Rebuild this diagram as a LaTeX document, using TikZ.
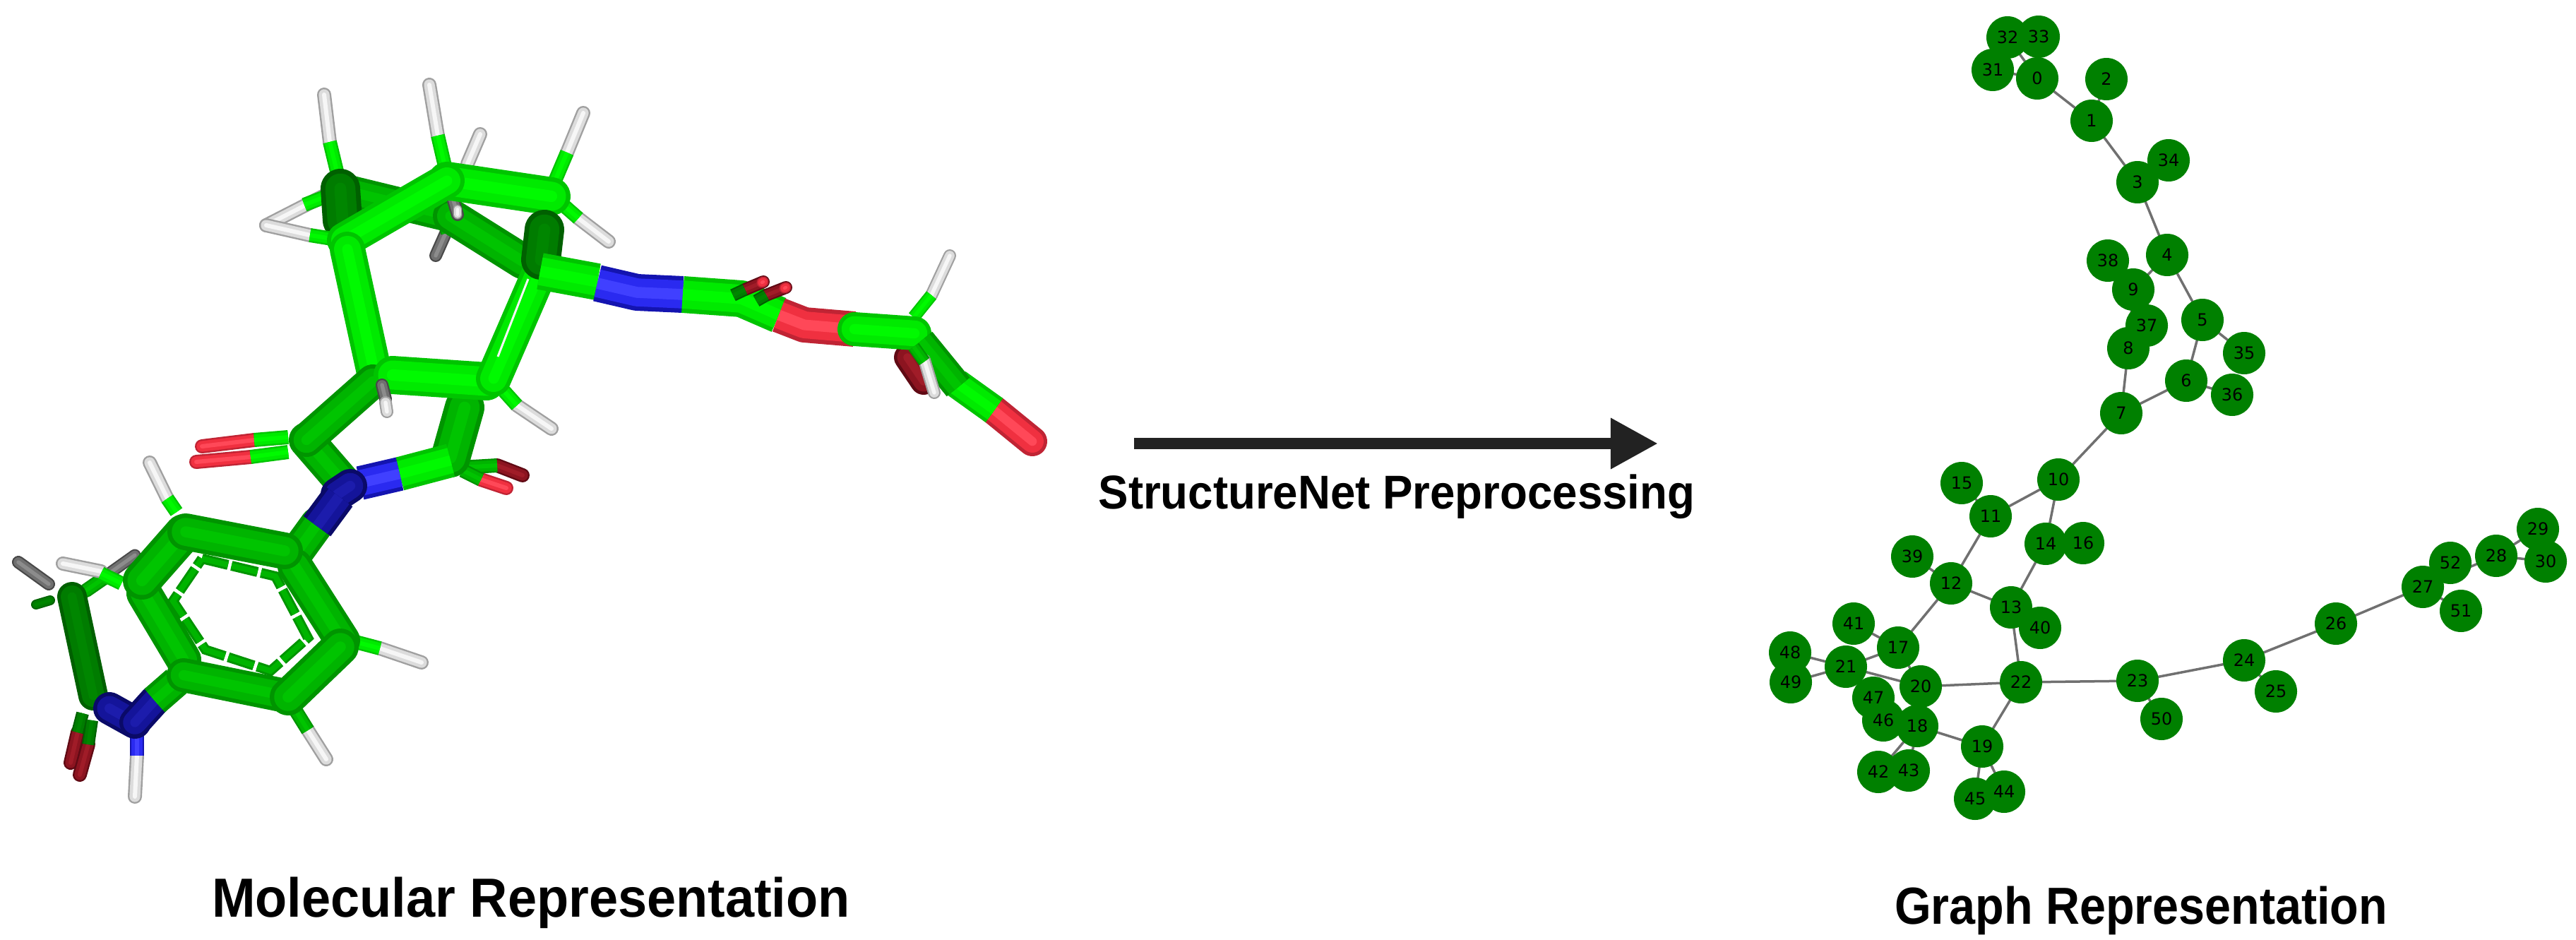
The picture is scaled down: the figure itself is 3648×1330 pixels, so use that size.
\documentclass[tikz,border=0pt]{standalone}
\usepackage{fontspec}
\usepackage{xcolor}
\newfontfamily\graphfont{DejaVu Sans}
\newfontfamily\capfont[FakeStretch=0.947]{Liberation Sans}
\newfontfamily\graphcapfont[FakeStretch=0.9]{Liberation Sans}
\definecolor{graphgreen}{HTML}{008000}
\definecolor{edgegray}{HTML}{707070}
\definecolor{arrowdark}{HTML}{222222}
\definecolor{carbon}{HTML}{00EA00}
\definecolor{carbonedge}{HTML}{00C400}
\definecolor{carbonlit}{HTML}{00FA00}
\definecolor{midc}{HTML}{00B400}
\definecolor{midcedge}{HTML}{009400}
\definecolor{midclit}{HTML}{00C400}
\definecolor{deep}{HTML}{007C00}
\definecolor{deepedge}{HTML}{006000}
\definecolor{deeplit}{HTML}{008600}
\definecolor{nitro}{HTML}{2A2AF0}
\definecolor{nitroedge}{HTML}{1414B0}
\definecolor{nitrolit}{HTML}{4040FF}
\definecolor{navy}{HTML}{14149A}
\definecolor{navyedge}{HTML}{0A0A68}
\definecolor{navylit}{HTML}{1C1CAC}
\definecolor{oxy}{HTML}{F03040}
\definecolor{oxyedge}{HTML}{C02434}
\definecolor{oxylit}{HTML}{FF4858}
\definecolor{wine}{HTML}{8C1420}
\definecolor{wineedge}{HTML}{600A14}
\definecolor{winelit}{HTML}{A01C28}
\definecolor{hyd}{HTML}{DCDCDC}
\definecolor{hydedge}{HTML}{A0A0A0}
\definecolor{hydlit}{HTML}{F6F6F6}
\definecolor{smoke}{HTML}{707070}
\definecolor{smokeedge}{HTML}{484848}
\definecolor{smokelit}{HTML}{8C8C8C}
\usepackage{tikz}
\usetikzlibrary{arrows.meta, backgrounds}
\newcommand{\pxu}{0.01cm}
\newcommand{\tube}[4][round]{
  \draw[line cap=#1, line join=round, line width=#3*\pxu, #2edge] #4;
  \draw[line cap=#1, line join=round, line width=0.76*#3*\pxu, #2] #4;
  \draw[line cap=#1, line join=round, line width=0.3*#3*\pxu, #2lit] #4;
}
\tikzset{
  gnode/.style={circle, minimum size=0.6cm, inner sep=0pt, font=\graphfont\fontsize{6.8}{8}\selectfont, text=black},
  gedge/.style={edgegray, line width=3.5*\pxu},
  caption/.style={anchor=base, inner sep=0pt, font=\capfont\bfseries\fontsize{22.2}{26}\selectfont, text=black}
}

\begin{document}
\begin{tikzpicture}[x=0.01cm, y=-0.01cm, >=Stealth]
  \useasboundingbox (0,0) rectangle (3648,1330);

  \coordinate (ca) at (488,340);
  \coordinate (cb) at (633,256);
  \coordinate (cc) at (781,278);
  \coordinate (cd) at (765,384);
  \coordinate (ce) at (694,540);
  \coordinate (cf) at (531,532);
  \coordinate (cg) at (482,268);
  \coordinate (ch) at (638,306);

  \tube{hyd}{20}{(680,190) -- (662,232)}
  \tube{smoke}{18}{(633,326) -- (617,362)}
  \tube[butt]{midc}{18}{(625,300) -- (633,330)}
  \tube{hyd}{20}{(459,277) -- (377,319)}
  \tube[butt]{carbon}{20}{(470,275) -- (431,290)}
  \tube{midc}{46}{(cg) -- (ch)}
  \tube{midc}{50}{(ch) -- (740,370)}
  \tube{hyd}{20}{(467,201) -- (459,134)}
  \tube[butt]{carbon}{20}{(482,263) -- (467,201)}
  \tube{deep}{56}{(482,267) -- (485,312)}
  \tube{smoke}{18}{(638,270) -- (648,304)}
  \tube{hyd}{12}{(648,296) -- (648,304)}
  \tube{hyd}{20}{(620,192) -- (608,120)}
  \tube[butt]{carbon}{20}{(633,248) -- (620,192)}
  \tube{hyd}{20}{(803,216) -- (826,160)}
  \tube[butt]{carbon}{20}{(780,270) -- (803,216)}
  \tube{hyd}{20}{(819,309) -- (862,342)}
  \tube[butt]{carbon}{20}{(786,280) -- (819,309)}
  \tube{hyd}{20}{(439,333) -- (377,319)}
  \tube[butt]{carbon}{20}{(470,338) -- (439,333)}
  \tube{carbon}{54}{(cb) -- (cc)}
  \tube{carbon}{50}{(ca) -- (cb)}
  \tube{carbon}{50}{(492,353) -- (cf)}
  \tube{hyd}{20}{(732,574) -- (781,607)}
  \tube[butt]{carbon}{20}{(714,554) -- (732,574)}
  \tube{oxy}{20}{(360,623) -- (286,632)}
  \tube[butt]{carbon}{20}{(408,619) -- (360,623)}
  \tube{oxy}{20}{(355,647) -- (278,654)}
  \tube[butt]{carbon}{20}{(408,640) -- (355,647)}
  \tube{wine}{20}{(704,659) -- (740,673)}
  \tube[butt]{midc}{20}{(653,662) -- (704,659)}
  \tube{oxy}{20}{(681,679) -- (717,691)}
  \tube[butt]{midc}{20}{(655,666) -- (681,679)}
  \tube{midc}{56}{(638,648) -- (658,577)}
  \tube{midc}{50}{(434,623) -- (485,682)}
  \tube{midc}{48}{(528,540) -- (434,623)}
  \tube{carbon}{54}{(556,531) -- (689,540)}
  \tube{carbon}{50}{(699,536) -- (cd)}
  \draw[hydlit, line width=3*\pxu] (705,505) -- (748,395);
  \tube{deep}{56}{(771,325) -- (766,368)}
  \tube{smoke}{18}{(541,545) -- (546,565)}
  \tube{hyd}{18}{(546,570) -- (548,583)}
  \tube[butt]{carbon}{48}{(566,671) -- (638,652)}
  \tube[butt]{nitro}{48}{(510,684) -- (566,671)}
  \tube{navy}{48}{(478,700) -- (496,688)}
  \tube{midc}{48}{(449,742) -- (420,782)}
  \tube[butt]{navy}{48}{(480,703) -- (449,745)}
  \tube{hyd}{20}{(237,706) -- (212,655)}
  \tube[butt]{carbon}{20}{(250,725) -- (237,706)}
  \tube{hyd}{20}{(538,918) -- (597,938)}
  \tube[butt]{carbon}{20}{(500,908) -- (538,918)}
  \tube{hyd}{20}{(436,1034) -- (462,1075)}
  \tube[butt]{midc}{20}{(418,1005) -- (436,1034)}
  \tube{smoke}{17}{(153,813) -- (191,786)}
  \tube{smoke}{18}{(69,827) -- (26,796)}
  \tube{deep}{14}{(71,850) -- (51,856)}
  \tube{midc}{20}{(122,836) -- (148,818)}
  \tube{hyd}{20}{(143,809) -- (89,798)}
  \tube[butt]{carbon}{20}{(143,812) -- (172,826)}
  \tube{deep}{42}{(102,845) -- (132,985)}
  \tube{wine}{20}{(110,1037) -- (100,1080)}
  \tube[butt]{deep}{18}{(117,1010) -- (110,1037)}
  \tube{wine}{20}{(125,1054) -- (113,1097)}
  \tube[butt]{deep}{18}{(130,1020) -- (125,1054)}
  \tube{hyd}{20}{(194,1070) -- (191,1128)}
  \tube[butt]{nitro}{20}{(194,1030) -- (194,1070)}
  \tube{navy}{46}{(155,1003) -- (191,1023)}
  \tube{navy}{44}{(219,992) -- (191,1023)}
  \tube[butt]{midc}{44}{(250,965) -- (219,992)}
  \tube{midc}{50}{(204,840) -- (260,934)}
  \tube{midc}{48}{(260,956) -- (403,985)}
  \tube{midc}{50}{(418,802) -- (485,907)}
  \tube{midc}{52}{(482,916) -- (408,987)}
  \tube{midc}{54}{(201,822) -- (260,755)}
  \tube{midc}{52}{(263,753) -- (403,780)}
  \draw[midcedge, line width=14*\pxu, dash pattern=on 38*\pxu off 5*\pxu] (286,791) -- (390,816) -- (436,903) -- (383,950) -- (291,920) -- (245,851) -- cycle;
  \draw[midc, line width=8*\pxu, dash pattern=on 38*\pxu off 5*\pxu] (286,791) -- (390,816) -- (436,903) -- (383,950) -- (291,920) -- (245,851) -- cycle;

  \tube{wine}{38}{(1285,506) -- (1308,540)}
  \tube{hyd}{18}{(1319,418) -- (1345,362)}
  \tube[butt]{carbon}{18}{(1294,449) -- (1319,418)}
  \tube[butt]{carbon}{52}{(cd) -- (846,399)}
  \tube[butt]{nitro}{52}{(846,401) -- (902,414) -- (967,417)}
  \tube[butt]{carbon}{52}{(967,417) -- (1050,423) -- (1103,446)}
  \tube[butt]{oxy}{50}{(1103,446) -- (1139,460) -- (1210,466)}
  \tube{carbon}{48}{(1210,466) -- (1295,472)}
  \tube{oxy}{42}{(1408,581) -- (1462,625)}
  \tube[butt]{carbon}{42}{(1355,543) -- (1408,581)}
  \tube[butt]{midc}{42}{(1304,483) -- (1357,548)}
  \tube{hyd}{18}{(1309,510) -- (1323,556)}
  \tube[butt]{midc}{18}{(1294,491) -- (1309,512)}
  \tube{wine}{18}{(1055,410) -- (1081,399)}
  \tube[butt]{deep}{18}{(1038,418) -- (1055,410)}
  \tube{wine}{18}{(1085,418) -- (1113,407)}
  \tube[butt]{deep}{18}{(1071,426) -- (1085,418)}
  \tube{oxy}{15}{(1079,400) -- (1081,399)}
  \tube{oxy}{15}{(1111,408) -- (1113,407)}

  \node[caption] (molcap) at (752,1298) {Molecular Representation};

  \coordinate (arrowstart) at (1606,628);
  \coordinate (arrowend) at (2348,628);
  \draw[-{Triangle[length=0.67cm, width=0.68cm]}, arrowdark, line width=16*\pxu]
    (arrowstart) -- (arrowend);
  \node[caption, font=\capfont\bfseries\fontsize{19.1}{23}\selectfont] (netcap) at (1978,720)
    {StructureNet Preprocessing};

  \node[gnode] (n0) at (2885,111) {0};
  \node[gnode] (n1) at (2962,171) {1};
  \node[gnode] (n2) at (2983,112) {2};
  \node[gnode] (n3) at (3027,258) {3};
  \node[gnode] (n4) at (3069,361) {4};
  \node[gnode] (n5) at (3119,453) {5};
  \node[gnode] (n6) at (3096,539) {6};
  \node[gnode] (n7) at (3004,585) {7};
  \node[gnode] (n8) at (3014,493) {8};
  \node[gnode] (n9) at (3021,410) {9};
  \node[gnode] (n10) at (2915,679) {10};
  \node[gnode] (n11) at (2819,731) {11};
  \node[gnode] (n12) at (2763,826) {12};
  \node[gnode] (n13) at (2848,860) {13};
  \node[gnode] (n14) at (2897,770) {14};
  \node[gnode] (n15) at (2778,684) {15};
  \node[gnode] (n16) at (2950,769) {16};
  \node[gnode] (n17) at (2688,917) {17};
  \node[gnode] (n18) at (2715,1028) {18};
  \node[gnode] (n19) at (2807,1057) {19};
  \node[gnode] (n20) at (2720,972) {20};
  \node[gnode] (n21) at (2614,944) {21};
  \node[gnode] (n22) at (2862,966) {22};
  \node[gnode] (n23) at (3027,964) {23};
  \node[gnode] (n24) at (3178,935) {24};
  \node[gnode] (n25) at (3223,979) {25};
  \node[gnode] (n26) at (3308,883) {26};
  \node[gnode] (n27) at (3431,831) {27};
  \node[gnode] (n28) at (3535,787) {28};
  \node[gnode] (n29) at (3594,749) {29};
  \node[gnode] (n30) at (3605,795) {30};
  \node[gnode] (n31) at (2822,99) {31};
  \node[gnode] (n32) at (2843,53) {32};
  \node[gnode] (n33) at (2887,52) {33};
  \node[gnode] (n34) at (3071,227) {34};
  \node[gnode] (n35) at (3178,500) {35};
  \node[gnode] (n36) at (3161,559) {36};
  \node[gnode] (n37) at (3040,461) {37};
  \node[gnode] (n38) at (2985,369) {38};
  \node[gnode] (n39) at (2708,788) {39};
  \node[gnode] (n40) at (2889,889) {40};
  \node[gnode] (n41) at (2625,883) {41};
  \node[gnode] (n42) at (2660,1093) {42};
  \node[gnode] (n43) at (2703,1091) {43};
  \node[gnode] (n44) at (2838,1121) {44};
  \node[gnode] (n45) at (2797,1131) {45};
  \node[gnode] (n46) at (2667,1020) {46};
  \node[gnode] (n47) at (2653,988) {47};
  \node[gnode] (n48) at (2535,924) {48};
  \node[gnode] (n49) at (2536,966) {49};
  \node[gnode] (n50) at (3061,1018) {50};
  \node[gnode] (n51) at (3485,865) {51};
  \node[gnode] (n52) at (3470,797) {52};

  \begin{scope}[on background layer]
    \foreach \a/\b in {0/1, 0/31, 0/32, 0/33, 1/2, 1/3, 3/4, 3/34, 4/5, 4/9, 5/6, 5/35, 6/7, 6/36, 7/8, 7/10,
        8/9, 8/37, 9/38, 10/11, 10/14, 11/12, 11/15, 12/13, 12/17, 12/39, 13/14, 13/22, 13/40, 14/16,
        17/20, 17/21, 17/41, 18/19, 18/20, 18/42, 18/43, 18/46, 18/47, 19/22, 19/44, 19/45, 20/21,
        20/22, 21/48, 21/49, 22/23, 23/24, 23/50, 24/25, 24/26, 26/27, 27/28, 27/51, 27/52, 28/29,
        28/30, 29/30}
      \draw[gedge] (n\a.center) -- (n\b.center);
    \foreach \a in {0,...,52}
      \fill[graphgreen] (n\a) circle (30);
  \end{scope}

  \node[caption, font=\graphcapfont\bfseries\fontsize{21}{25}\selectfont] (graphcap) at (3032,1308) {Graph Representation};
\end{tikzpicture}
\end{document}
